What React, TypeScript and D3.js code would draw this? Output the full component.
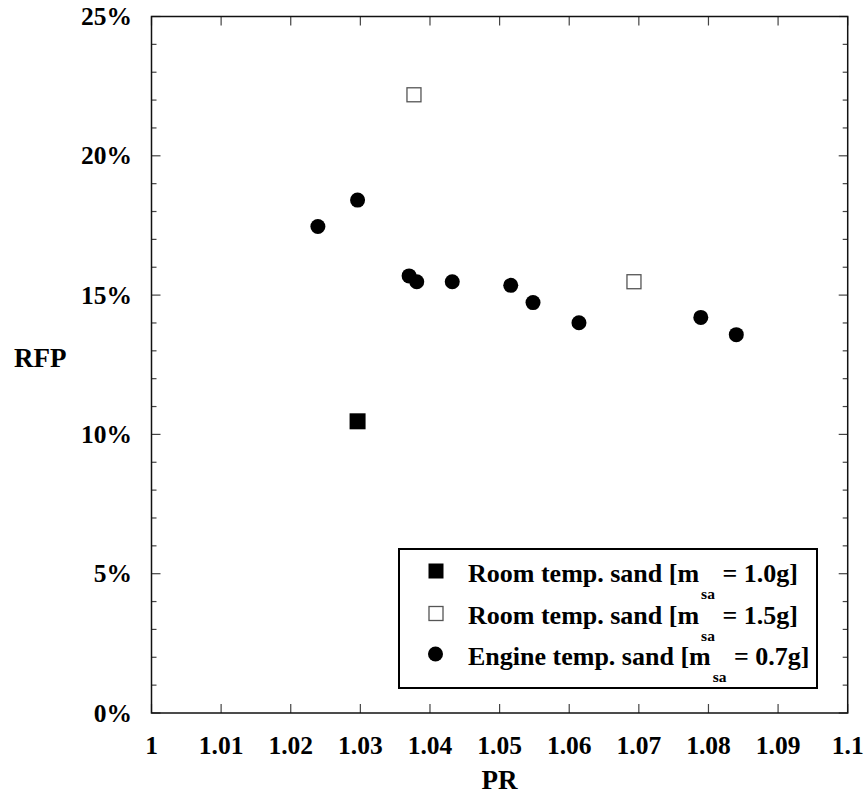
import React from "react";
import * as d3 from "d3";

const roomSmallX = [1.0296];
const roomSmallY = [10.47];
const roomLargeX = [1.0377, 1.0693];
const roomLargeY = [22.19, 15.48];
const engineX = [1.0239, 1.0296, 1.037, 1.0381, 1.0432, 1.0516, 1.0548, 1.0614, 1.0789, 1.084];
const engineY = [17.46, 18.41, 15.69, 15.48, 15.48, 15.35, 14.73, 14.01, 14.2, 13.58];

const xTicks = [1, 1.01, 1.02, 1.03, 1.04, 1.05, 1.06, 1.07, 1.08, 1.09, 1.1];
const xTickLabels = ["1", "1.01", "1.02", "1.03", "1.04", "1.05", "1.06", "1.07", "1.08", "1.09", "1.1"];
const yTicks = [0, 5, 10, 15, 20, 25];
const yTickLabels = ["0%", "5%", "10%", "15%", "20%", "25%"];
const yMinorTicks = d3.range(0, 26, 1);

const legendLabels = [
  ["Room temp. sand [m", "sa", " = 1.0g]"],
  ["Room temp. sand [m", "sa", " = 1.5g]"],
  ["Engine temp. sand [m", "sa", " = 0.7g]"],
];

const FONT = "'Liberation Serif', 'Times New Roman', serif";

export default function App() {
  const x = d3.scaleLinear().domain([1, 1.1]).range([151.5, 847.7]);
  const y = d3.scaleLinear().domain([0, 25]).range([713, 16.5]);
  const [x0, x1] = x.range();
  const [y0, y1] = y.range();
  const tickColor = "#444";

  const legendRows = [581.5, 624, 665];

  return (
    <div style={{ position: "absolute", left: 0, top: 0 }}>
      <svg width={865} height={794} style={{ display: "block", background: "#fff" }} fontFamily={FONT} fontWeight="bold">
        {yMinorTicks.map((t) => {
          const major = t % 5 === 0;
          const len = major ? 9 : 5;
          return (
            <g key={"ym" + t} stroke={tickColor} strokeWidth={1.2}>
              <line x1={x0} x2={x0 + len} y1={y(t)} y2={y(t)} />
              <line x1={x1} x2={x1 - len} y1={y(t)} y2={y(t)} />
            </g>
          );
        })}
        {xTicks.map((t) => (
          <g key={"xt" + t} stroke={tickColor} strokeWidth={1.2}>
            <line x1={x(t)} x2={x(t)} y1={y0} y2={y0 - 9} />
            <line x1={x(t)} x2={x(t)} y1={y1} y2={y1 + 9} />
          </g>
        ))}
        <rect x={x0} y={y1} width={x1 - x0} height={y0 - y1} fill="none" stroke="#111" strokeWidth={1.5} />

        {xTicks.map((t, i) => (
          <text key={"xl" + t} x={x(t)} y={754} textAnchor="middle" fontSize={25.5} fill="#000">
            {xTickLabels[i]}
          </text>
        ))}
        {yTicks.map((t, i) => (
          <text key={"yl" + t} x={132} y={y(t) + 8.5} textAnchor="end" fontSize={25.5} fill="#000">
            {yTickLabels[i]}
          </text>
        ))}

        <text x={499.6} y={789} textAnchor="middle" fontSize={27} fill="#000">PR</text>
        <text x={14} y={366.5} textAnchor="start" fontSize={27} fill="#000">RFP</text>

        {engineX.map((v, i) => (
          <circle key={"e" + i} cx={x(v)} cy={y(engineY[i])} r={7.5} fill="#000" />
        ))}
        {roomSmallX.map((v, i) => (
          <rect key={"rs" + i} x={x(v) - 8} y={y(roomSmallY[i]) - 8} width={16} height={16} fill="#000" />
        ))}
        {roomLargeX.map((v, i) => (
          <rect key={"rl" + i} x={x(v) - 7} y={y(roomLargeY[i]) - 7} width={14} height={14} fill="#fff" stroke="#555" strokeWidth={1.3} />
        ))}

        <rect x={399} y={549} width={418} height={139} fill="#fff" stroke="#000" strokeWidth={2} />
        <rect x={428.5} y={legendRows[0] - 18} width={15} height={15} fill="#000" />
        <rect x={429} y={legendRows[1] - 17.5} width={14} height={14} fill="#fff" stroke="#555" strokeWidth={1.3} />
        <circle cx={435.5} cy={legendRows[2] - 11} r={7.5} fill="#000" />
        {legendLabels.map((lab, i) => (
          <text key={"lg" + i} x={468} y={legendRows[i]} fontSize={26} fill="#000">
            {lab[0]}
            <tspan fontSize={15.5} dx={2} dy={17}>{lab[1]}</tspan>
            <tspan dx={1} dy={-17}>{lab[2]}</tspan>
          </text>
        ))}
      </svg>
    </div>
  );
}
